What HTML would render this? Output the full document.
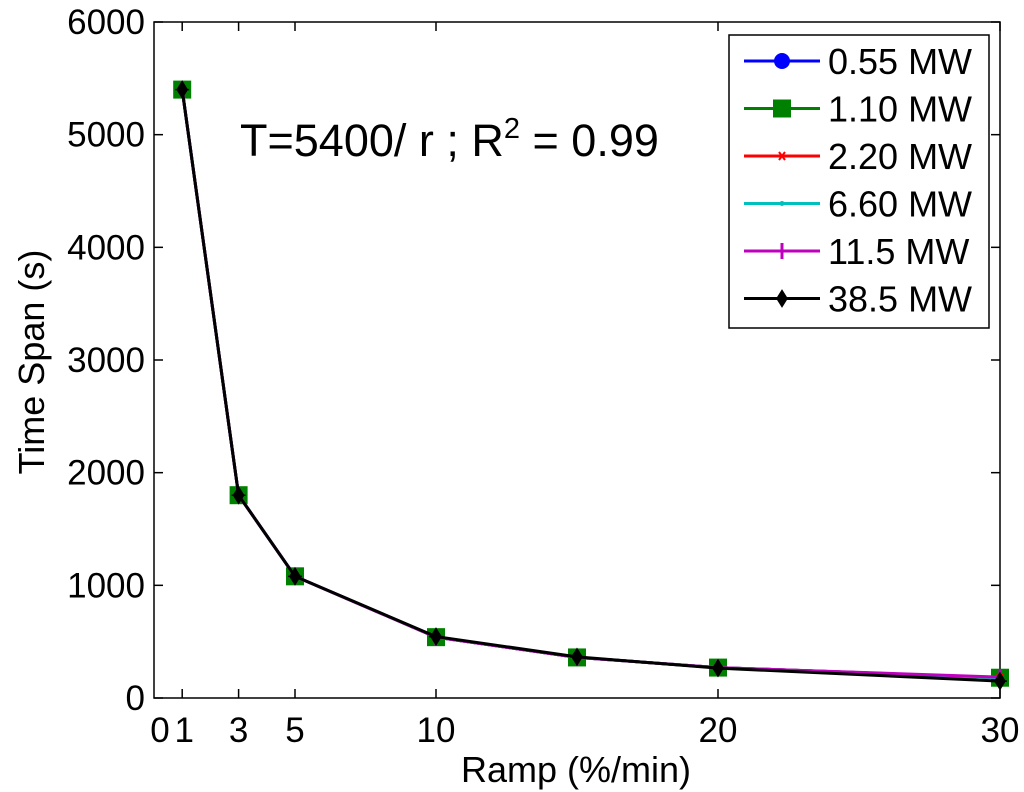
<!DOCTYPE html>
<html><head><meta charset="utf-8"><style>
html,body{margin:0;padding:0;background:#fff;}
svg{display:block;font-family:"Liberation Sans",Arial,sans-serif;}
</style></head><body>
<svg id="chart" width="1024" height="792">
<g id="plot"></g>
</svg>
<script>
const ramps=[1,3,5,10,15,20,30];
const s055=[5400,1800,1080,540,360,270,180];
const s110=[5400,1800,1080,540,360,270,180];
const s220=[5400,1800,1080,540,360,270,180];
const s660=[5400,1800,1080,540,360,270,180];
const s115=[5400,1800,1080,540,360,270,185];
const s385=[5400,1800,1080,545,365,265,150];
const xTicks=[1,3,5,10,20,30];
const xTickLabels=["1","3","5","10","20","30"];
const yTicks=[0,1000,2000,3000,4000,5000,6000];
const seriesNames=["0.55 MW","1.10 MW","2.20 MW","6.60 MW","11.5 MW","38.5 MW"];

const L=154,R=1000,T=22,B=698;
const X=v=>L+(v-0)/(30-0)*(R-L);
const Y=v=>B-(v-0)/(6000-0)*(B-T);
const NS="http://www.w3.org/2000/svg";
const g=document.getElementById('plot');
function el(t,a,p){const e=document.createElementNS(NS,t);for(const k in a)e.setAttribute(k,a[k]);(p||g).appendChild(e);return e;}

const box=el('rect',{x:L,y:T,width:R-L,height:B-T,fill:'none',stroke:'#000','stroke-width':1.5});



yTicks.forEach(v=>{
  const t=el('line',{x1:L,x2:L+9,y1:Y(v),y2:Y(v),stroke:'#000','stroke-width':1.5});
  
  
  const t2=el('line',{x1:R,x2:R-9,y1:Y(v),y2:Y(v),stroke:'#000','stroke-width':1.5});
  
  
  const tx=el('text',{x:L-9,y:Y(v)+12,'text-anchor':'end','font-size':35});
  tx.textContent=v;
  
  
});
const zl=el('text',{x:X(0)+6,y:B+44,'text-anchor':'middle','font-size':35});
zl.textContent="0";


xTicks.forEach((v,i)=>{
  const t=el('line',{x1:X(v),x2:X(v),y1:B,y2:B-9,stroke:'#000','stroke-width':1.5});
  
  
  const t2=el('line',{x1:X(v),x2:X(v),y1:T,y2:T+9,stroke:'#000','stroke-width':1.5});
  
  
  const tx=el('text',{x:X(v)+(i===0?2:0),y:B+44,'text-anchor':'middle','font-size':35});
  tx.textContent=xTickLabels[i];
  
  
});
const xl=el('text',{x:576,y:782,'text-anchor':'middle','font-size':36});
xl.textContent="Ramp (%/min)";


const yl=el('text',{x:44,y:362,'text-anchor':'middle','font-size':36,transform:'rotate(-90 44 362)'});
yl.textContent="Time Span (s)";



const ann=el('text',{x:240,y:156,'font-size':45});
ann.innerHTML='T=5400/ r ; R<tspan dy="-18" font-size="29">2</tspan><tspan dy="18"> = 0.99</tspan>';



const series=[s055,s110,s220,s660,s115,s385];
const colors=['#0000ff','#008000','#ff0000','#00bfbf','#bf00bf','#000000'];
const marks=['circle','square','x','dot','plus','star'];
function marker(type,cx,cy,c,parent){
  let m;
  if(type==='circle')m=el('circle',{cx,cy,r:8,fill:c},parent);
  else if(type==='square')m=el('rect',{x:cx-9,y:cy-9,width:18,height:18,fill:c},parent);
  else if(type==='x')m=el('path',{d:`M${cx-3},${cy-4}L${cx+3},${cy+4}M${cx+3},${cy-4}L${cx-3},${cy+4}`,stroke:c,'stroke-width':2},parent);
  else if(type==='dot')m=el('circle',{cx,cy,r:2.5,fill:c},parent);
  else if(type==='plus')m=el('path',{d:`M${cx},${cy-8}L${cx},${cy+8}`,stroke:c,'stroke-width':3},parent);
  else m=el('path',{d:`M${cx},${cy-8}L${cx+5},${cy}L${cx},${cy+8}L${cx-5},${cy}Z M${cx-7},${cy}L${cx+7},${cy}`,fill:c,stroke:c,'stroke-width':1.5},parent);
  return m;
}
series.forEach((s,si)=>{
  const sg=el('g',{});
  
  
  const pl=el('polyline',{points:ramps.map((r,i)=>X(r)+','+Y(s[i])).join(' '),fill:'none',stroke:colors[si],'stroke-width':3},sg);
  
  
  ramps.forEach((r,i)=>{
    const m=marker(marks[si],X(r),Y(s[i]),colors[si],sg);
    
    
  });
});

const lg=el('g',{});


const lr=el('rect',{x:729,y:35,width:260,height:293,fill:'#fff',stroke:'#000','stroke-width':1.5},lg);


seriesNames.forEach((n,i)=>{
  const y=61+i*47.5;
  const e=el('g',{},lg);
  
  
  el('line',{x1:744,x2:820,y1:y,y2:y,stroke:colors[i],'stroke-width':3},e);
  marker(marks[i],782,y,colors[i],e);
  const t=el('text',{x:828,y:y+13,'font-size':36},e);
  t.textContent=n;
});
</script>
</body></html>
